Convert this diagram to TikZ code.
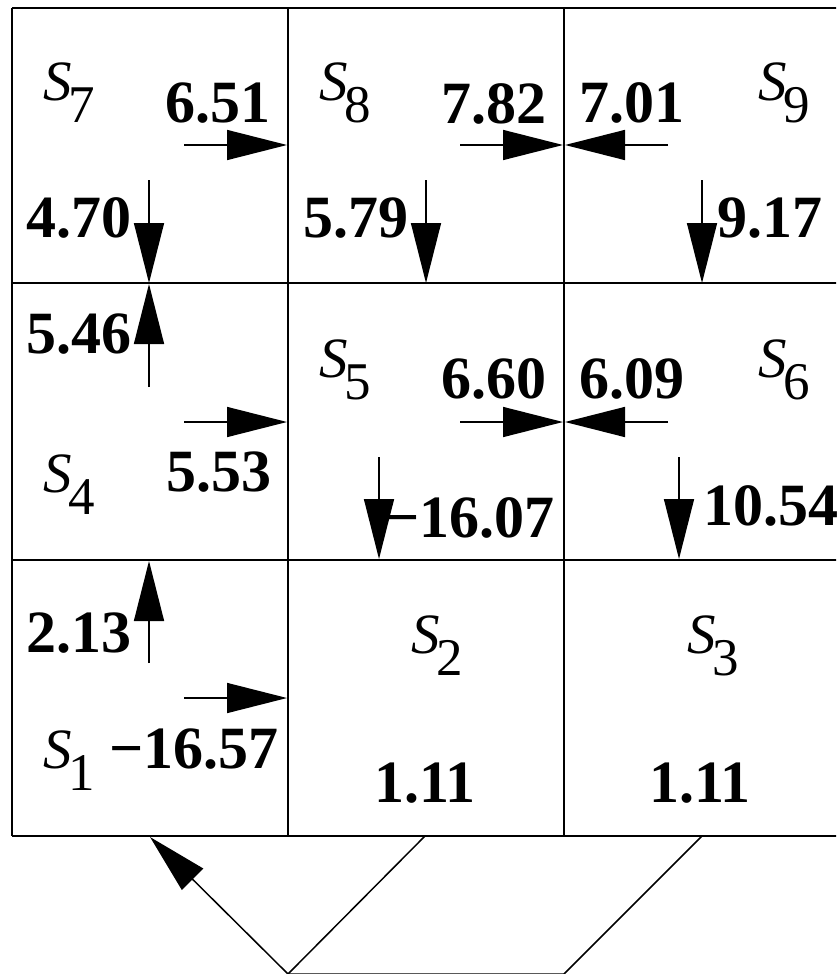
\documentclass[tikz,border=0pt]{standalone}
\usepackage{fontspec}
\setmainfont{Liberation Serif}
\usetikzlibrary{arrows.meta}
\newcommand\numfont{\fontsize{60}{62}\selectfont\bfseries}
\newcommand\symfont{\fontsize{57}{60}\selectfont\itshape}
\newcommand\subsc[1]{\kern-3pt\raisebox{-22pt}{\fontsize{53}{53}\selectfont\upshape #1}}
\begin{document}
\begin{tikzpicture}[x=1pt,y=-1pt,
  gridline/.style={line width=2pt},
  flux/.style={line width=1.5pt,-{Triangle[length=60pt,width=30pt]}},
  num/.style={anchor=base west,inner sep=0pt,font=\numfont},
  sym/.style={anchor=base west,inner sep=0pt,font=\symfont}]
\useasboundingbox (0,0) rectangle (836,974);
\clip (0,0) rectangle (836,974);
% grid
\draw[gridline] (12,8) -- (860,8);
\draw[gridline] (12,283) -- (860,283);
\draw[gridline] (12,560) -- (860,560);
\draw[gridline] (12,836) -- (860,836);
\draw[gridline] (12,8) -- (12,836);
\draw[gridline] (288,8) -- (288,836);
\draw[gridline] (564,8) -- (564,836);
% region labels
\node[sym] (s7) at (43,100) {S\subsc{7}};
\node[sym] (s8) at (319,100) {S\subsc{8}};
\node[sym] (s9) at (758,100) {S\subsc{9}};
\node[sym] (s4) at (43,492) {S\subsc{4}};
\node[sym] (s5) at (319,377) {S\subsc{5}};
\node[sym] (s6) at (758,377) {S\subsc{6}};
\node[sym] (s1) at (43,768) {S\subsc{1}};
\node[sym] (s2) at (411,653) {S\subsc{2}};
\node[sym] (s3) at (687,653) {S\subsc{3}};
% values
\node[num] (v651) at (165,122) {6.51};
\node[num] (v470) at (26,237) {4.70};
\node[num] (v782) at (441,123) {7.82};
\node[num] (v579) at (303,237) {5.79};
\node[num] (v701) at (579,122) {7.01};
\node[num] (v917) at (717,237) {9.17};
\node[num] (v546) at (26,353) {5.46};
\node[num] (v553) at (166,491) {5.53};
\node[num] (v660) at (441,398) {6.60};
\node[num] (v609) at (579,398) {6.09};
\node[num] (v1607) at (385,537) {−16.07};
\node[num] (v1054) at (703,525) {10.54};
\node[num] (v213) at (26,652) {2.13};
\node[num] (v1657) at (109,768) {−16.57};
\node[num] (v111a) at (374,802) {1.11};
\node[num] (v111b) at (649,802) {1.11};
% arrow end points
\coordinate (a1s) at (184,145); \coordinate (a1e) at (287,145);
\coordinate (a2s) at (149,180); \coordinate (a2e) at (149,283);
\coordinate (a3s) at (460,145); \coordinate (a3e) at (563,145);
\coordinate (a4s) at (426,180); \coordinate (a4e) at (426,283);
\coordinate (a5s) at (668,145); \coordinate (a5e) at (565,145);
\coordinate (a6s) at (702,180); \coordinate (a6e) at (702,283);
\coordinate (a7s) at (149,387); \coordinate (a7e) at (149,284);
\coordinate (a8s) at (184,422); \coordinate (a8e) at (287,422);
\coordinate (a9s) at (460,422); \coordinate (a9e) at (563,422);
\coordinate (a10s) at (668,422); \coordinate (a10e) at (565,422);
\coordinate (a11s) at (379,457); \coordinate (a11e) at (379,559);
\coordinate (a12s) at (679,457); \coordinate (a12e) at (679,559);
\coordinate (a13s) at (149,663); \coordinate (a13e) at (149,561);
\coordinate (a14s) at (184,698); \coordinate (a14e) at (287,698);
\draw[flux] (a1s) -- (a1e);
\draw[flux] (a2s) -- (a2e);
\draw[flux] (a3s) -- (a3e);
\draw[flux] (a4s) -- (a4e);
\draw[flux] (a5s) -- (a5e);
\draw[flux] (a6s) -- (a6e);
\draw[flux] (a7s) -- (a7e);
\draw[flux] (a8s) -- (a8e);
\draw[flux] (a9s) -- (a9e);
\draw[flux] (a10s) -- (a10e);
\draw[flux] (a11s) -- (a11e);
\draw[flux] (a12s) -- (a12e);
\draw[flux] (a13s) -- (a13e);
\draw[flux] (a14s) -- (a14e);
% return loop
\coordinate (l2) at (425,836);
\coordinate (l3) at (702,836);
\coordinate (vl) at (288,974);
\coordinate (vr) at (564,974);
\coordinate (l1) at (150,837);
\draw[line width=1.5pt] (l3) -- (vr) -- (vl);
\draw[flux] (l2) -- (vl) -- (l1);
\end{tikzpicture}
\end{document}
